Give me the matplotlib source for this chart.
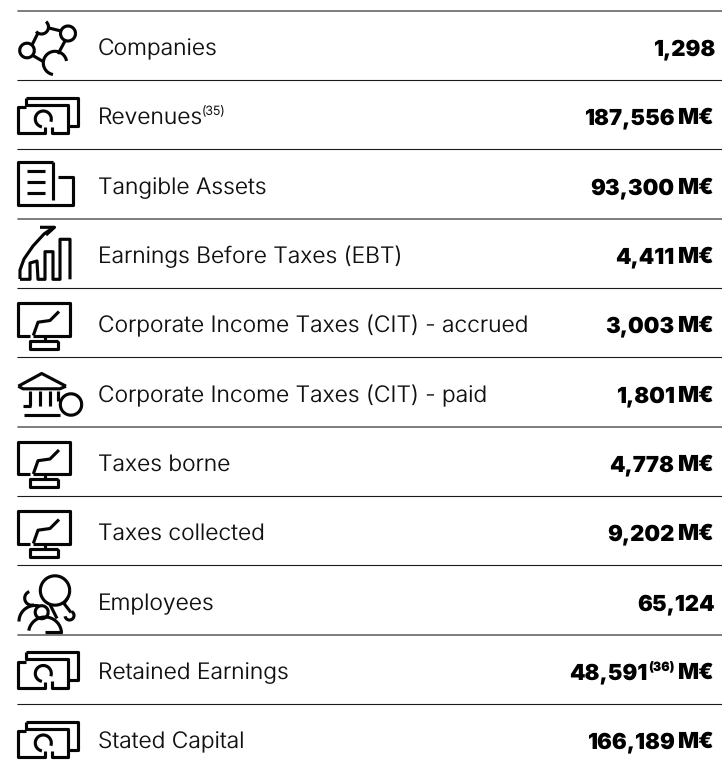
import numpy as np
import matplotlib
matplotlib.use("Agg")
import matplotlib.pyplot as plt

plt.rcParams["text.hinting"] = "none"
plt.rcParams["text.hinting_factor"] = 1

# table contents
labels = ["Companies", "Revenues", "Tangible Assets", "Earnings Before Taxes (EBT)",
          "Corporate Income Taxes (CIT) - accrued", "Corporate Income Taxes (CIT) - paid",
          "Taxes borne", "Taxes collected", "Employees", "Retained Earnings", "Stated Capital"]
label_notes = ["", "(35)", "", "", "", "", "", "", "", "", ""]
numbers = ["1,298", "187,556", "93,300", "4,411", "3,003", "1,801",
           "4,778", "9,202", "65,124", "48,591", "166,189"]
number_notes = ["", "", "", "", "", "", "", "", "", "(36)", ""]
units = ["", "M€", "M€", "M€", "M€", "M€", "M€", "M€", "", "M€", "M€"]
icons = ["net", "money", "doc", "bars", "screen", "bank", "screen", "screen", "people", "money", "money"]

line_y = [11, 80.5, 149.5, 219, 288.5, 357.5, 427, 496.5, 565.5, 635, 704.5]
INK = "#050505"
LW = 2.25

fig = plt.figure(figsize=(7.22, 7.65), dpi=100)
ax = fig.add_axes([0, 0, 1, 1])
ax.set_xlim(0, 722)
ax.set_ylim(765, 0)
ax.axis("off")


def path(pts, dy):
    xs = [p[0] for p in pts]
    ys = [p[1] + dy for p in pts]
    ax.plot(xs, ys, color=INK, lw=LW, solid_capstyle="butt", solid_joinstyle="round")


def arc(cx, cy, r, a0, a1, dy):
    t = np.radians(np.linspace(a0, a1, 40))
    ax.plot(cx + r * np.cos(t), cy + dy + r * np.sin(t), color=INK, lw=LW, solid_capstyle="butt")


# icons, y relative to the line above the row
def money(dy):
    path([(26, 17), (78.3, 17), (78.3, 45), (68.3, 45)], dy)
    path([(26, 17), (26, 24), (68.3, 24), (68.3, 52.7), (52, 52.7), (52, 46)], dy)
    path([(26, 26.5), (18.3, 26.5), (18.3, 52.7), (45, 52.7), (45, 46.5)], dy)
    arc(43.3, 38.5, 8, 100, 380, dy)


def doc(dy):
    path([(53.3, 12.3), (18.3, 12.3), (18.3, 55.7), (73.3, 55.7), (73.3, 27.7), (58.3, 27.7)], dy)
    path([(53.3, 12.3), (53.3, 50)], dy)
    for y in [21.7, 32.3, 43.3]:
        path([(27, y), (45, y)], dy)


def screen(dy):
    path([(30, 47), (18.3, 47), (18.3, 14.7), (70, 14.7), (70, 47), (33.3, 47)], dy)
    path([(33.3, 47), (38, 33.7), (50, 32), (59, 23)], dy)
    path([(45, 47), (45, 52)], dy)
    path([(58, 52), (30, 52), (30, 60), (58, 60), (58, 52)], dy)


def bars(dy):
    path([(20, 60), (20, 51), (24, 40), (33, 27), (44, 15), (54, 8)], dy)
    path([(40, 8.3), (54.5, 8.3), (46, 16)], dy)
    path([(20, 60.3), (30, 60.3), (30, 44), (37, 42), (38, 60.3), (45, 60.3), (45, 32.7), (53, 32.7),
          (53, 60.3), (60, 60.3), (60, 20.3), (70, 20.3), (70, 60.3)], dy)


def bank(dy):
    path([(18.3, 28.7), (41.7, 16), (66, 28.7)], dy)
    path([(18.3, 28.7), (23, 31.3), (60, 31.3), (66, 28.7)], dy)
    for x in [30, 40, 50]:
        path([(x, 33.7), (x, 48.7)], dy)
    path([(23.3, 48.7), (31, 48.7)], dy)
    path([(24, 57.7), (60, 57.7)], dy)
    path([(58.3, 33.7), (58.3, 43.7)], dy)
    arc(71, 47, 10.7, 0, 360, dy)


def net(dy):
    arc(27, 39.5, 7.3, 0, 360, dy)
    arc(68, 22.5, 7.5, 0, 360, dy)
    arc(55, 52, 11.7, 100, 350, dy)
    arc(41.5, 16, 7, -50, 140, dy)
    path([(32, 34), (38, 22)], dy)
    path([(49, 17), (61, 20)], dy)
    path([(65, 30), (58, 43)], dy)
    path([(32, 44), (44, 51)], dy)


def people(dy):
    arc(55, 25, 14.7, 0, 360, dy)
    path([(50, 39), (57, 53)], dy)
    path([(68, 32), (64, 38), (71, 47)], dy)
    arc(69.5, 50, 4.5, -60, 170, dy)
    arc(41.7, 46.7, 6.5, 0, 360, dy)
    arc(31.7, 32.7, 7, 70, 250, dy)
    arc(35, 56, 16, 180, 285, dy)
    arc(45, 68, 16.5, 190, 360, dy)
    path([(45, 66), (62, 66)], dy)


draw = {"net": net, "money": money, "doc": doc, "screen": screen,
        "bars": bars, "bank": bank, "people": people}

for y in line_y:
    ax.plot([18, 722], [y, y], color="#1a1a1a", lw=0.8, snap=False)

renderer = fig.canvas.get_renderer()


def left_edge(t):
    return t.get_window_extent(renderer).x0


for i, lab in enumerate(labels):
    top = line_y[i]
    base = round(top) + 44
    draw[icons[i]](top)
    t = ax.text(98, base, lab, fontsize=16.4, family="Inter", weight=300, color="#111111", va="baseline")
    if label_notes[i]:
        x = t.get_window_extent(renderer).x1
        ax.text(x - 1, base - 9, label_notes[i], fontsize=9, family="Inter", weight=300, color="#111111",
                va="baseline")

    # value is put together from the right edge
    right = 715
    if units[i]:
        t = ax.text(right, base, units[i], fontsize=15.9, family="Inter", weight=900, color="black",
                    va="baseline", ha="right")
        right = left_edge(t) - 4
    if number_notes[i]:
        t = ax.text(right, base - 7.5, number_notes[i], fontsize=9, family="Inter", weight=900, color="black",
                    va="baseline", ha="right")
        right = left_edge(t) - 1
    ax.text(right, base, numbers[i], fontsize=15.9, family="Inter", weight=900, color="black",
            va="baseline", ha="right")

fig.savefig("out.png", dpi=100)
